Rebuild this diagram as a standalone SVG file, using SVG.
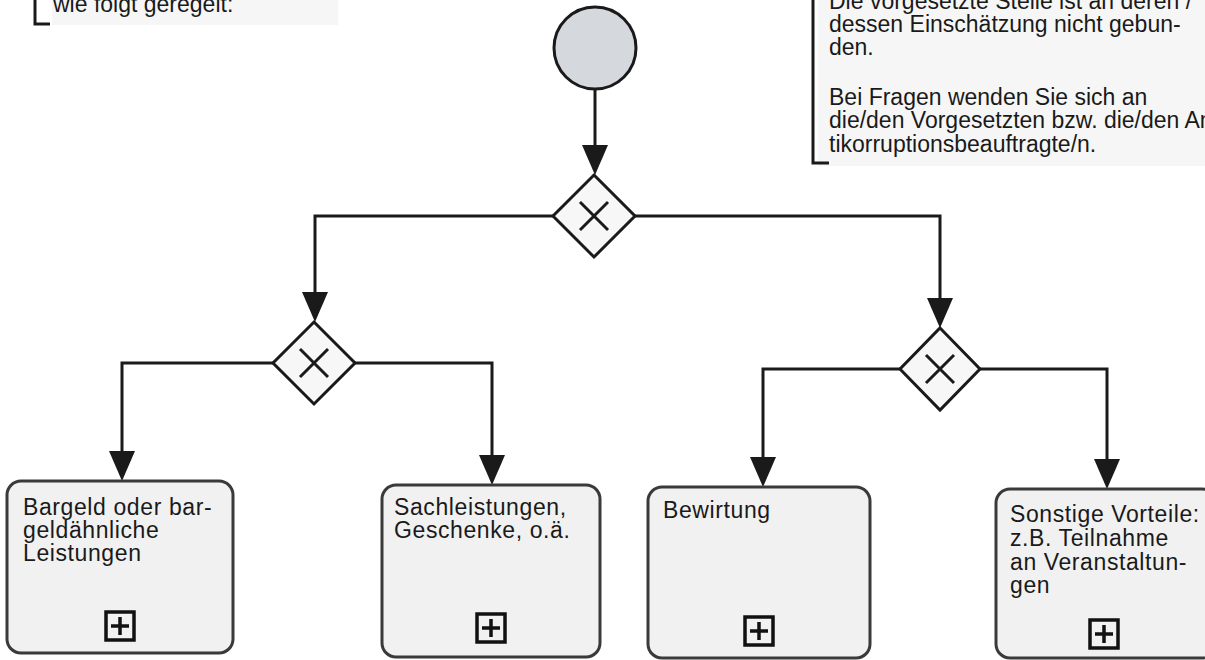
<svg xmlns="http://www.w3.org/2000/svg" width="1205" height="660" viewBox="0 0 1205 660">
<style>
text{font-family:"Liberation Sans",Arial,sans-serif;font-size:23px;fill:#1a1a1a}
.t{letter-spacing:0.6px}
.gw{fill:#f7f7f7;stroke:#1a1a1a;stroke-width:3}
.x{stroke:#1a1a1a;stroke-width:3;fill:none}
.task{fill:#f1f1f1;stroke:#3a3a3a;stroke-width:3}
.conn{fill:none;stroke:#1a1a1a;stroke-width:3}
.br{fill:none;stroke:#1a1a1a;stroke-width:3}
.ic{fill:#f1f1f1;stroke:#111;stroke-width:3.5}
.pl{stroke:#111;stroke-width:3.5}
</style>
<defs>
<marker id="ah" markerUnits="userSpaceOnUse" markerWidth="30" markerHeight="26" viewBox="0 0 30 26" refX="20" refY="13" orient="auto">
<path d="M0,0 L30,13 L0,26 Z" fill="#1a1a1a"/>
</marker>
</defs>
<rect width="1205" height="660" fill="#ffffff"/>

<g id="note-left">
<rect x="52" y="0" width="286" height="25" fill="#f6f6f6"/>
<path class="br" d="M35,0 V24 H50"/>
<text x="53" y="12">wie folgt geregelt:</text>
</g>

<g id="note-right">
<rect x="818" y="0" width="387" height="166" fill="#f6f6f6"/>
<path class="br" d="M813,0 V163 H829"/>
<text x="829" y="9">Die vorgesetzte Stelle ist an deren /</text>
<text x="829" y="32">dessen Einschätzung nicht gebun-</text>
<text x="829" y="55">den.</text>
<text x="829" y="105">Bei Fragen wenden Sie sich an</text>
<text x="829" y="128">die/den Vorgesetzten bzw. die/den An-</text>
<text x="829" y="152">tikorruptionsbeauftragte/n.</text>
</g>

<g id="connectors">
<path class="conn" d="M595,89 V165" marker-end="url(#ah)"/>
<path class="conn" d="M553,216 H315 V312" marker-end="url(#ah)"/>
<path class="conn" d="M635,216 H940 V318" marker-end="url(#ah)"/>
<path class="conn" d="M273,363 H122 V471" marker-end="url(#ah)"/>
<path class="conn" d="M355,363 H492 V475" marker-end="url(#ah)"/>
<path class="conn" d="M900,369 H763 V477" marker-end="url(#ah)"/>
<path class="conn" d="M980,369 H1107 V479" marker-end="url(#ah)"/>
</g>

<g id="start">
<circle cx="595" cy="48" r="41" fill="#d5d8dd" stroke="#1a1a1a" stroke-width="3"/>
</g>

<g id="gateway-top">
<path class="gw" d="M594,175 L635,216 L594,257 L553,216 Z"/>
<path class="x" d="M580,202 L608,230 M608,202 L580,230"/>
</g>

<g id="gateway-left">
<path class="gw" d="M314,322 L355,363 L314,404 L273,363 Z"/>
<path class="x" d="M300,349 L328,377 M328,349 L300,377"/>
</g>

<g id="gateway-right">
<path class="gw" d="M940,328 L980,369 L940,410 L900,369 Z"/>
<path class="x" d="M926,355 L954,383 M954,355 L926,383"/>
</g>

<g id="task-bargeld">
<rect class="task" x="7" y="481" width="226" height="172" rx="14"/>
<text class="t" x="23" y="515">Bargeld oder bar-</text>
<text class="t" x="23" y="538">geldähnliche</text>
<text class="t" x="23" y="561">Leistungen</text>
<rect class="ic" x="106" y="612" width="28" height="28"/>
<path class="pl" d="M111,626 H129 M120,617 V635"/>
</g>

<g id="task-sach">
<rect class="task" x="382" y="485" width="218" height="172" rx="14"/>
<text class="t" x="394" y="515">Sachleistungen,</text>
<text class="t" x="394" y="538">Geschenke, o.ä.</text>
<rect class="ic" x="477" y="614" width="28" height="28"/>
<path class="pl" d="M482,628 H500 M491,619 V637"/>
</g>

<g id="task-bewirtung">
<rect class="task" x="648" y="487" width="222" height="171" rx="14"/>
<text class="t" x="663" y="518">Bewirtung</text>
<rect class="ic" x="745" y="617" width="28" height="28"/>
<path class="pl" d="M750,631 H768 M759,622 V640"/>
</g>

<g id="task-sonstige">
<rect class="task" x="996" y="489" width="220" height="169" rx="14"/>
<text class="t" x="1010" y="522">Sonstige Vorteile:</text>
<text class="t" x="1010" y="546">z.B. Teilnahme</text>
<text class="t" x="1010" y="570">an Veranstaltun-</text>
<text class="t" x="1010" y="593">gen</text>
<rect class="ic" x="1090" y="620" width="28" height="28"/>
<path class="pl" d="M1095,634 H1113 M1104,625 V643"/>
</g>
</svg>
